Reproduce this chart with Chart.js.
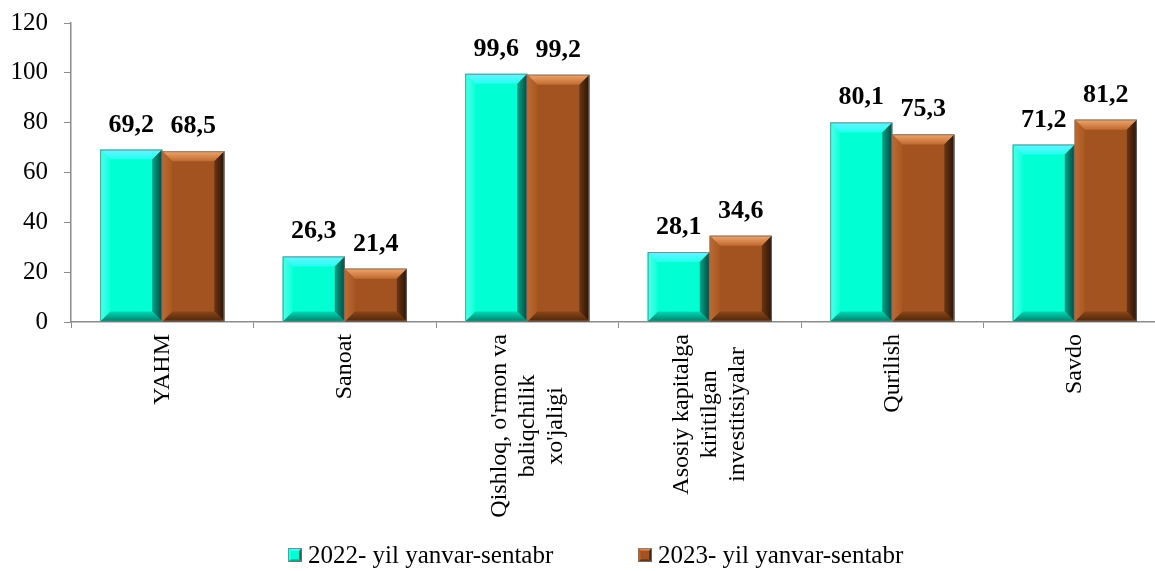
<!DOCTYPE html>
<html>
<head>
<meta charset="utf-8">
<script src="https://cdn.jsdelivr.net/npm/chart.js@4.4.0/dist/chart.umd.min.js"></script>
<style>
    html, body { margin: 0; padding: 0; background: #fff; overflow: hidden; }
    #wrap { width: 1170px; height: 571px; position: relative; }
</style>
</head>
<body>
<div id="wrap"><canvas id="grafico"></canvas></div>
<script>
// Datos del gráfico
const categorias = [
    'YAHM',
    'Sanoat',
    ["Qishloq, o'rmon va", 'baliqchilik', "xo'jaligi"],
    ['Asosiy kapitalga', 'kiritilgan', 'investitsiyalar'],
    'Qurilish',
    'Savdo'
];
const valores2022 = [69.2, 26.3, 99.6, 28.1, 80.1, 71.2];
const valores2023 = [68.5, 21.4, 99.2, 34.6, 75.3, 81.2];
const nombresSeries = ['2022- yil yanvar-sentabr', '2023- yil yanvar-sentabr'];
const ejeYMin = 0;
const ejeYMax = 120;
const ejeYPaso = 20;

const fuente = "Liberation Serif, DejaVu Serif, serif";

// Colores del bisel (cara, arriba, izquierda, derecha, abajo + tono interior de cada tira)
const bisel = [
    { face: '#00FFD2', top: '#6AF2FF', topIn: '#22FFF0', left: '#55FFE8', leftIn: '#10FFDA',
      right: '#00493E', rightIn: '#00A68A', bottom: '#007F69', bottomIn: '#00D9B4' },
    { face: '#A3531F', top: '#F0A66C', topIn: '#C06A30', left: '#BD6A32', leftIn: '#A95822',
      right: '#2A1303', rightIn: '#6E3512', bottom: '#4F260B', bottomIn: '#8A4518' }
];

// Posición de la leyenda (x de cada item)
const leyendaX = [288, 638];

function dibujarBisel(ctx, L, T, R, B, b, c) {
    b = Math.min(b, (R - L) / 2, (B - T) / 2);
    ctx.save();
    ctx.fillStyle = c.face;
    ctx.fillRect(L, T, R - L, B - T);
    const tira = (pts, x0, y0, x1, y1, col0, col1) => {
        const g = ctx.createLinearGradient(x0, y0, x1, y1);
        g.addColorStop(0, col0);
        g.addColorStop(1, col1);
        ctx.fillStyle = g;
        ctx.beginPath();
        pts.forEach((p, k) => k ? ctx.lineTo(p[0], p[1]) : ctx.moveTo(p[0], p[1]));
        ctx.closePath();
        ctx.fill();
    };
    tira([[L, T], [R, T], [R - b, T + b], [L + b, T + b]], 0, T, 0, T + b, c.top, c.topIn);
    tira([[L, B], [R, B], [R - b, B - b], [L + b, B - b]], 0, B, 0, B - b, c.bottom, c.bottomIn);
    tira([[L, T], [L + b, T + b], [L + b, B - b], [L, B]], L, 0, L + b, 0, c.left, c.leftIn);
    tira([[R, T], [R - b, T + b], [R - b, B - b], [R, B]], R, 0, R - b, 0, c.right, c.rightIn);
    ctx.strokeStyle = 'rgba(120,120,120,0.8)';
    ctx.lineWidth = 1;
    ctx.strokeRect(L + 0.5, T + 0.5, R - L - 1, B - T - 1);
    ctx.restore();
}

// Plugin: barras con bisel + etiquetas de valores + eje X + leyenda
const biselPlugin = {
    id: 'bisel',
    afterDatasetsDraw(chart) {
        const ctx = chart.ctx;
        chart.data.datasets.forEach((ds, i) => {
            chart.getDatasetMeta(i).data.forEach((bar, j) => {
                const p = bar.getProps(['x', 'y', 'base', 'width'], true);
                const L = p.x - p.width / 2, R = p.x + p.width / 2;
                const T = Math.min(p.y, p.base), B = Math.max(p.y, p.base);
                dibujarBisel(ctx, L, T, R, B, 10, bisel[i]);

                ctx.save();
                ctx.font = 'bold 26px ' + fuente;
                ctx.fillStyle = '#000';
                ctx.textAlign = 'center';
                ctx.textBaseline = 'alphabetic';
                ctx.fillText(ds.data[j].toFixed(1).replace('.', ','), p.x, T - 18);
                ctx.restore();
            });
        });
    },
    afterDraw(chart) {
        const ctx = chart.ctx;
        const xs = chart.scales.x;

        // Etiquetas del eje X (rotadas, líneas centradas)
        ctx.save();
        ctx.font = '24px ' + fuente;
        ctx.fillStyle = '#000';
        chart.data.labels.forEach((cat, i) => {
            const lineas = Array.isArray(cat) ? cat : [cat];
            const px = xs.getPixelForValue(i);
            const anchoMax = Math.max(...lineas.map(l => ctx.measureText(l).width));
            ctx.save();
            ctx.translate(px, xs.top + 12);
            ctx.rotate(-Math.PI / 2);
            ctx.textAlign = 'center';
            ctx.textBaseline = 'middle';
            lineas.forEach((l, k) => {
                ctx.fillText(l, -anchoMax / 2, (k - (lineas.length - 1) / 2) * 28);
            });
            ctx.restore();
        });
        ctx.restore();

        // Leyenda
        ctx.save();
        ctx.font = '25px ' + fuente;
        ctx.textBaseline = 'alphabetic';
        chart.data.datasets.forEach((ds, i) => {
            const x = leyendaX[i];
            dibujarBisel(ctx, x, 548, x + 14, 562, 3, bisel[i]);
            ctx.fillStyle = '#000';
            ctx.fillText(ds.label, x + 20, 563);
        });
        ctx.restore();
    }
};

const ctx = document.getElementById('grafico').getContext('2d');
const grafico = new Chart(ctx, {
    type: 'bar',
    data: {
        labels: categorias,
        datasets: [
            {
                label: nombresSeries[0],
                data: valores2022,
                backgroundColor: bisel[0].face,
                borderWidth: 0
            },
            {
                label: nombresSeries[1],
                data: valores2023,
                backgroundColor: bisel[1].face,
                borderWidth: 0
            }
        ]
    },
    options: {
        responsive: true,
        maintainAspectRatio: false,
        animation: false,
        datasets: {
            bar: { categoryPercentage: 0.68, barPercentage: 1.0 }
        },
        layout: { padding: { top: 23, right: 4, left: 0, bottom: 0 } },
        plugins: {
            legend: { display: false },
            tooltip: { enabled: false }
        },
        scales: {
            x: {
                grid: { display: true, drawOnChartArea: false, drawTicks: true, tickLength: 6, color: '#8c8c8c', offset: true },
                border: { color: '#8c8c8c', width: 1.5 },
                ticks: { display: false, autoSkip: false },
                afterFit: s => { s.height = 249; s.paddingLeft = 0; s.paddingRight = 0; }
            },
            y: {
                min: ejeYMin,
                max: ejeYMax,
                ticks: {
                    stepSize: ejeYPaso,
                    padding: 16,
                    color: '#000',
                    font: { family: fuente, size: 25 }
                },
                grid: { drawOnChartArea: false, drawTicks: true, tickLength: 7, color: '#8c8c8c' },
                border: { color: '#8c8c8c', width: 1.5 },
                afterFit: s => { s.width = 71; s.paddingTop = 0; s.paddingBottom = 0; }
            }
        }
    },
    plugins: [biselPlugin]
});
</script>
</body>
</html>
